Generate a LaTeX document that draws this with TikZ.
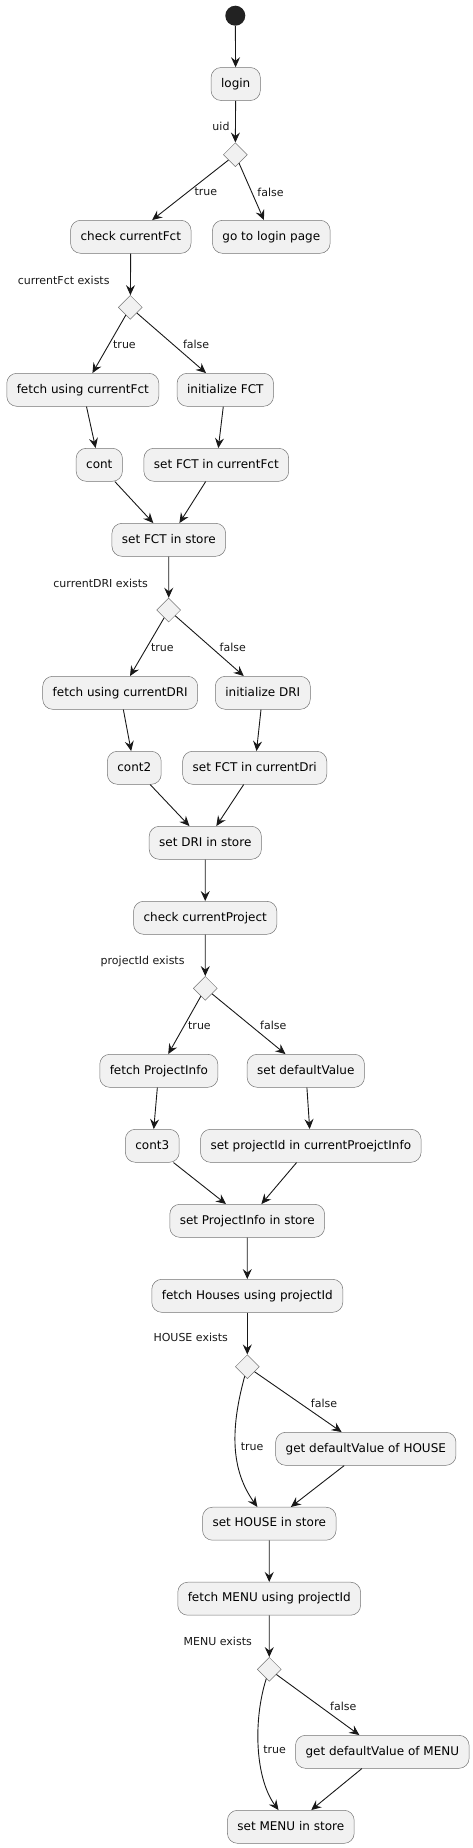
\documentclass[tikz,border=0pt]{standalone}
\usepackage{fontspec}
\setmainfont{DejaVu Sans}
\usepackage{tikz}
\usetikzlibrary{arrows.meta, shapes.geometric}

\definecolor{actfill}{HTML}{F1F1F1}
\definecolor{actline}{HTML}{181818}
\definecolor{startfill}{HTML}{222222}

\begin{document}
\begin{tikzpicture}[x=1pt, y=-1pt,
    act/.style={draw=actline!60, line width=0.5pt, fill=actfill, rounded corners=10pt,
        minimum height=33pt, inner xsep=10pt, text height=9pt, text depth=2.5pt,
        font=\fontsize{12}{14}\selectfont},
    chk/.style={diamond, draw=actline!60, line width=0.5pt, fill=actfill,
        minimum width=24pt, minimum height=24pt, inner sep=0pt},
    flow/.style={draw=actline, line width=0.9pt,
        -{Stealth[length=10pt, width=9pt, inset=3.5pt]}},
    lbl/.style={font=\fontsize{11}{13}\selectfont, inner sep=0pt,
        text height=8pt, text depth=2pt, text=actline}]
    \useasboundingbox (0,0) rectangle (473,1848);

    % Start and login
    \node[circle, fill=startfill, minimum size=20pt, inner sep=0pt] (start) at (235.3,15.7) {};
    \node[act] (login) at (235.7,84) {login};
    \node[chk] (uidChk) at (235.3,154.7) {};
    \node[act] (checkFct) at (130.8,236.8) {check currentFct};
    \node[act] (loginPage) at (271.3,236.8) {go to login page};

    % FCT
    \node[chk] (fctChk) at (130.3,307.3) {};
    \node[act] (fetchFct) at (82.8,389.8) {fetch using currentFct};
    \node[act] (initFct) at (225.3,389.8) {initialize FCT};
    \node[act] (cont) at (99.3,464.8) {cont};
    \node[act] (setFctCur) at (216.3,464.8) {set FCT in currentFct};
    \node[act] (fctStore) at (168.8,539.8) {set FCT in store};

    % DRI
    \node[chk] (driChk) at (168.7,610) {};
    \node[act] (fetchDri) at (120.2,692.8) {fetch using currentDRI};
    \node[act] (initDri) at (262.8,692.8) {initialize DRI};
    \node[act] (cont2) at (134.3,767.8) {cont2};
    \node[act] (setFctDri) at (254.7,767.8) {set FCT in currentDri};
    \node[act] (driStore) at (205.3,842.8) {set DRI in store};

    % Project
    \node[act] (checkProj) at (205.2,917.8) {check currentProject};
    \node[chk] (projChk) at (205.3,988.3) {};
    \node[act] (fetchProj) at (158.8,1070.8) {fetch ProjectInfo};
    \node[act] (setDefault) at (305.8,1070.8) {set defaultValue};
    \node[act] (cont3) at (152.3,1145.8) {cont3};
    \node[act] (setProjId) at (310.8,1145.8) {set projectId in currentProejctInfo};
    \node[act] (projStore) at (247.2,1220.8) {set ProjectInfo in store};

    % HOUSE
    \node[act] (fetchHouses) at (247.3,1295.8) {fetch Houses using projectId};
    \node[chk] (houseChk) at (247.3,1366.7) {};
    \node[act] (houseDefault) at (365.8,1448.8) {get defaultValue of HOUSE};
    \node[act] (houseStore) at (269.3,1523.7) {set HOUSE in store};

    % MENU
    \node[act] (fetchMenu) at (269.2,1598.7) {fetch MENU using projectId};
    \node[chk] (menuChk) at (269.3,1669.3) {};
    \node[act] (menuDefault) at (382.3,1751.8) {get defaultValue of MENU};
    \node[act] (menuStore) at (290.8,1826.8) {set MENU in store};

    % Flows
    \draw[flow] (start) -- (login);
    \draw[flow] (login) -- node[lbl, pos=0.63, anchor=east, xshift=-5.5pt] (uidLbl) {uid} (uidChk);
    \draw[flow] (uidChk) -- node[lbl, pos=0.547, anchor=west, xshift=7.4pt] (uidT) {true} (checkFct);
    \draw[flow] (uidChk) -- node[lbl, pos=0.524, anchor=west, xshift=4.9pt] (uidF) {false} (loginPage);

    \draw[flow] (checkFct) -- node[lbl, pos=0.66, anchor=east, xshift=-20.5pt] (fctLbl) {currentFct exists} (fctChk);
    \draw[flow] (fctChk) -- node[lbl, pos=0.533, anchor=west, xshift=4.7pt] (fctT) {true} (fetchFct);
    \draw[flow] (fctChk) -- node[lbl, pos=0.548, anchor=west, xshift=7.8pt] (fctF) {false} (initFct);
    \draw[flow] (fetchFct) -- (cont);
    \draw[flow] (initFct) -- (setFctCur);
    \draw[flow] (cont) -- (fctStore);
    \draw[flow] (setFctCur) -- (fctStore);

    \draw[flow] (fctStore) -- node[lbl, pos=0.688, anchor=east, xshift=-20.4pt] (driLbl) {currentDRI exists} (driChk);
    \draw[flow] (driChk) -- node[lbl, pos=0.535, anchor=west, xshift=4.8pt] (driT) {true} (fetchDri);
    \draw[flow] (driChk) -- node[lbl, pos=0.55, anchor=west, xshift=6.3pt] (driF) {false} (initDri);
    \draw[flow] (fetchDri) -- (cont2);
    \draw[flow] (initDri) -- (setFctDri);
    \draw[flow] (cont2) -- (driStore);
    \draw[flow] (setFctDri) -- (driStore);

    \draw[flow] (driStore) -- (checkProj);
    \draw[flow] (checkProj) -- node[lbl, pos=0.66, anchor=east, xshift=-20.3pt] (projLbl) {projectId exists} (projChk);
    \draw[flow] (projChk) -- node[lbl, pos=0.532, anchor=west, xshift=4.2pt] (projT) {true} (fetchProj);
    \draw[flow] (projChk) -- node[lbl, pos=0.55, anchor=west, xshift=7.3pt] (projF) {false} (setDefault);
    \draw[flow] (fetchProj) -- (cont3);
    \draw[flow] (setDefault) -- (setProjId);
    \draw[flow] (cont3) -- (projStore);
    \draw[flow] (setProjId) -- (projStore);

    \draw[flow] (projStore) -- (fetchHouses);
    \draw[flow] (fetchHouses) -- node[lbl, pos=0.63, anchor=east, xshift=-19pt] (houseLbl) {HOUSE exists} (houseChk);
    \draw[flow] (houseChk) .. controls (230,1430) and (231,1470) .. node[lbl, pos=0.5, anchor=west, xshift=4.8pt] (houseT) {true} (houseStore);
    \draw[flow] (houseChk) -- node[lbl, pos=0.55, anchor=west, xshift=8.1pt] (houseF) {false} (houseDefault);
    \draw[flow] (houseDefault) -- (houseStore);

    \draw[flow] (houseStore) -- (fetchMenu);
    \draw[flow] (fetchMenu) -- node[lbl, pos=0.64, anchor=east, xshift=-17pt] (menuLbl) {MENU exists} (menuChk);
    \draw[flow] (menuChk) .. controls (253,1720) and (255,1778) .. node[lbl, pos=0.52, anchor=west, xshift=4.1pt] (menuT) {true} (menuStore);
    \draw[flow] (menuChk) -- node[lbl, pos=0.55, anchor=west, xshift=7.7pt] (menuF) {false} (menuDefault);
    \draw[flow] (menuDefault) -- (menuStore);
\end{tikzpicture}
\end{document}
